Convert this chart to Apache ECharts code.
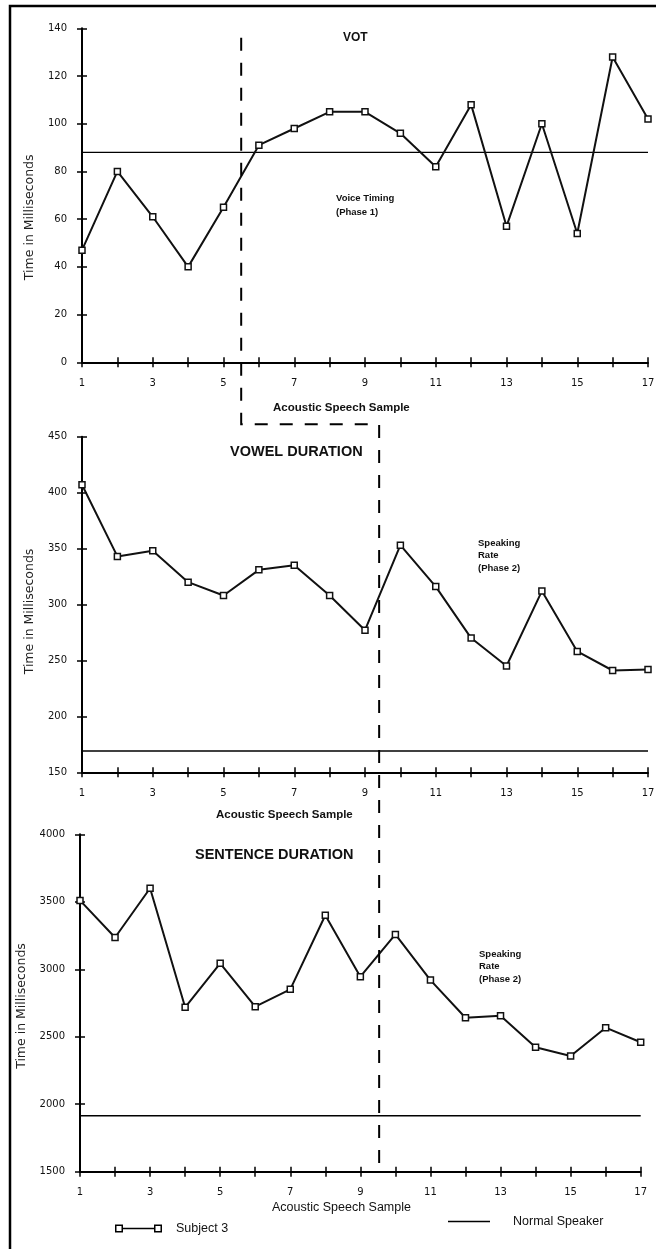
<!DOCTYPE html>
<html>
<head>
<meta charset="utf-8">
<script src="https://cdn.jsdelivr.net/npm/echarts@6/dist/echarts.min.js"></script>
<style>
  html, body { margin: 0; padding: 0; background: #fff; }
  #chart { width: 656px; height: 1249px; }
</style>
</head>
<body>
<div id="chart"></div>
<script>
// acoustic speech samples 1..17
const samples = [1, 2, 3, 4, 5, 6, 7, 8, 9, 10, 11, 12, 13, 14, 15, 16, 17];

// Subject 3 measurements (ms)
const votMs = [47, 80, 61, 40, 65, 91, 98, 105, 105, 96, 82, 108, 57, 100, 54, 128, 102];
const vowelMs = [407, 343, 348, 320, 308, 331, 335, 308, 277, 353, 316, 270, 245, 312, 258, 241, 242];
const sentenceMs = [3510, 3235, 3600, 2718, 3044, 2723, 2851, 3400, 2945, 3258, 2920, 2641, 2656, 2422, 2357, 2567, 2459];

// normal speaker reference values: VOT, vowel, sentence
const normalMs = [88, 169, 1915];

// treatment phase boundaries on the sample axis
const phase1End = 5.5;
const phase2Start = 9.4;

const panelTitles = ['VOT', 'VOWEL DURATION', 'SENTENCE DURATION'];
const xTitle = 'Acoustic Speech Sample';
const yTitle = 'Time in Milliseconds';

const tickFont = 'DejaVu Sans';
const textFont = 'Liberation Sans';

const chart = echarts.init(document.getElementById('chart'));

const grids = [
  { left: 82, top: 28.3, width: 566, height: 334 },
  { left: 82, top: 436.7, width: 566, height: 335.6 },
  { left: 80, top: 834.3, width: 560.7, height: 337.4 }
].map(g => Object.assign({ outerBoundsMode: 'none', containLabel: false }, g));

const yRanges = [
  { min: 0, max: 140, interval: 20 },
  { min: 150, max: 450, interval: 50 },
  { min: 1500, max: 4000, interval: 500 }
];

const xAxes = [];
const yAxes = [];
grids.forEach((g, i) => {
  // outward ticks + labels
  xAxes.push({
    type: 'value', gridIndex: i, min: 1, max: 17, interval: 1, position: 'bottom',
    axisLine: { show: true, onZero: false, lineStyle: { color: '#000', width: 2 } },
    axisTick: { show: true, inside: false, length: 5, lineStyle: { color: '#000', width: 1.5 } },
    axisLabel: {
      margin: 16, fontFamily: tickFont, fontSize: 10, color: '#111',
      formatter: v => (v % 2 === 1 ? String(v) : '')
    },
    splitLine: { show: false }
  });
  // inward ticks, so ticks cross the axis
  xAxes.push({
    type: 'value', gridIndex: i, min: 1, max: 17, interval: 1, position: 'bottom',
    axisLine: { show: false, onZero: false },
    axisTick: { show: true, inside: true, length: 5, lineStyle: { color: '#000', width: 1.5 } },
    axisLabel: { show: false },
    splitLine: { show: false }
  });
  const r = yRanges[i];
  yAxes.push({
    type: 'value', gridIndex: i, min: r.min, max: r.max, interval: r.interval, position: 'left',
    axisLine: { show: true, onZero: false, lineStyle: { color: '#000', width: 2 } },
    axisTick: { show: true, inside: false, length: 5, lineStyle: { color: '#000', width: 1.5 } },
    axisLabel: { margin: 15, fontFamily: tickFont, fontSize: 10, color: '#111', formatter: v => String(v) },
    splitLine: { show: false },
    name: yTitle, nameLocation: 'middle', nameRotate: 90, nameGap: i === 2 ? 50 : 46,
    nameTextStyle: {
      fontFamily: tickFont, fontSize: 12.5, color: '#222',
      padding: i === 0 ? [0, 44, 0, 0] : (i === 1 ? [0, 14, 0, 0] : [0, 6, 0, 0])
    }
  });
  yAxes.push({
    type: 'value', gridIndex: i, min: r.min, max: r.max, interval: r.interval, position: 'left',
    axisLine: { show: false, onZero: false },
    axisTick: { show: true, inside: true, length: 5, lineStyle: { color: '#000', width: 1.5 } },
    axisLabel: { show: false },
    splitLine: { show: false }
  });
});

const subjectData = [votMs, vowelMs, sentenceMs];
const series = [];
subjectData.forEach((vals, i) => {
  series.push({
    name: 'Normal Speaker', type: 'line', xAxisIndex: i * 2, yAxisIndex: i * 2,
    data: [[samples[0], normalMs[i]], [samples[samples.length - 1], normalMs[i]]],
    symbol: 'none', lineStyle: { color: '#000', width: 1.4 }, z: 2, silent: true
  });
  series.push({
    name: 'Subject 3', type: 'line', xAxisIndex: i * 2, yAxisIndex: i * 2,
    data: samples.map((s, k) => [s, vals[k]]),
    symbol: 'rect', symbolSize: 6,
    itemStyle: { color: '#fff', borderColor: '#111', borderWidth: 1.5 },
    lineStyle: { color: '#111', width: 2 }, z: 3
  });
});

const titleBase = { padding: 0 };
const titles = [
  { text: panelTitles[0], left: 343, top: 32, textStyle: { fontFamily: textFont, fontSize: 12, fontWeight: 'bold', color: '#111' } },
  { text: panelTitles[1], left: 230, top: 444, textStyle: { fontFamily: textFont, fontSize: 14.5, fontWeight: 'bold', color: '#111' } },
  { text: panelTitles[2], left: 195, top: 847.5, textStyle: { fontFamily: textFont, fontSize: 14.5, fontWeight: 'bold', color: '#111' } },
  { text: xTitle, left: 273, top: 402, textStyle: { fontFamily: textFont, fontSize: 11.5, fontWeight: 'bold', color: '#111' } },
  { text: xTitle, left: 216, top: 809, textStyle: { fontFamily: textFont, fontSize: 11.5, fontWeight: 'bold', color: '#111' } },
  { text: xTitle, left: 272, top: 1201, textStyle: { fontFamily: textFont, fontSize: 12.5, fontWeight: 'normal', color: '#111' } },
  { text: 'Voice Timing\n(Phase 1)', left: 336, top: 191, textStyle: { fontFamily: textFont, fontSize: 9.5, fontWeight: 'bold', color: '#111', lineHeight: 14 } },
  { text: 'Speaking\nRate\n(Phase 2)', left: 478, top: 537, textStyle: { fontFamily: textFont, fontSize: 9.5, fontWeight: 'bold', color: '#111', lineHeight: 12.5 } },
  { text: 'Speaking\nRate\n(Phase 2)', left: 479, top: 948, textStyle: { fontFamily: textFont, fontSize: 9.5, fontWeight: 'bold', color: '#111', lineHeight: 12.5 } }
].map(t => Object.assign({}, titleBase, t));

const subjectIcon = 'path://M0,0H8V8H0Z M1.5,1.5V6.5H6.5V1.5Z M8,3.3H39V4.7H8Z M39,0H47V8H39Z M40.5,1.5V6.5H45.5V1.5Z';

const option = {
  animation: false,
  backgroundColor: '#fff',
  title: titles,
  grid: grids,
  xAxis: xAxes,
  yAxis: yAxes,
  legend: [
    {
      data: [{ name: 'Subject 3', icon: subjectIcon, itemStyle: { color: '#000', borderWidth: 0 } }],
      left: 115, top: 1222, padding: 0, itemWidth: 47, itemHeight: 8, selectedMode: false,
      textStyle: { fontFamily: textFont, fontSize: 12.5, color: '#111', padding: [0, 0, 0, 9] }
    },
    {
      data: [{ name: 'Normal Speaker', icon: 'path://M0,0H42V1.4H0Z', itemStyle: { color: '#000', borderWidth: 0 } }],
      left: 448, top: 1215, padding: 0, itemWidth: 42, itemHeight: 1.4, selectedMode: false,
      textStyle: { fontFamily: textFont, fontSize: 12.5, color: '#111', padding: [0, 0, 0, 18] }
    }
  ],
  series: series,
  graphic: {
    elements: [
      {
        id: 'frame', type: 'rect', silent: true,
        shape: { x: 10, y: 6, width: 700, height: 1300 },
        style: { fill: 'none', stroke: '#000', lineWidth: 2.5 }
      }
    ]
  }
};

chart.setOption(option);

// dashed phase boundary, placed through the axes
const xP1 = chart.convertToPixel({ xAxisIndex: 0 }, phase1End);
const xP2 = chart.convertToPixel({ xAxisIndex: 2 }, phase2Start);
const yStart = chart.convertToPixel({ yAxisIndex: 0 }, 136);
const yJoin = chart.convertToPixel({ yAxisIndex: 0 }, 0) + 62;
const yEnd = chart.convertToPixel({ yAxisIndex: 4 }, 1500) - 5;

chart.setOption({
  graphic: {
    elements: [
      {
        id: 'phase', type: 'polyline', silent: true, z: 10,
        shape: { points: [[xP1, yStart], [xP1, yJoin], [xP2, yJoin], [xP2, yEnd]] },
        style: { fill: 'none', stroke: '#000', lineWidth: 2, lineDash: [13, 12] }
      }
    ]
  }
});
</script>
</body>
</html>
